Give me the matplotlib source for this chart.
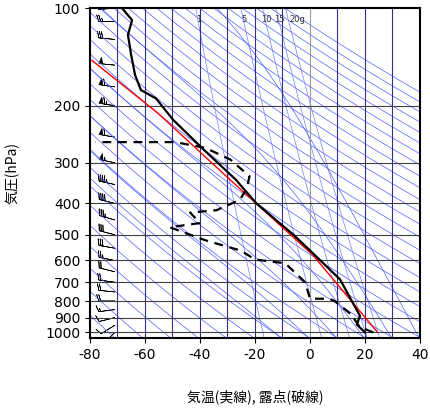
import numpy as np
import matplotlib
matplotlib.use('Agg')
import matplotlib.pyplot as plt

plt.rcParams['font.family'] = ['Noto Sans CJK JP', 'DejaVu Sans']

# temperature profile (solid)
t_p = [1000, 945, 890, 780, 686, 578, 500, 400, 338, 274, 221, 190, 179, 161, 140, 121, 109, 100]
t_T = [20.0, 17.0, 18.2, 14.5, 10.9, 1.8, -6.0, -19.5, -27.0, -38.5, -49.8, -56.0, -61.5, -63.6, -65.0, -66.2, -64.7, -68.4]
# dewpoint profile (dashed)
d_p = [1000, 960, 880, 800, 787, 787, 700, 612, 596, 560, 520, 474, 460, 427, 420, 390, 360, 330, 293, 270, 259, 259]
d_T = [23.0, 18.0, 15.0, 9.0, 7.0, 0.0, -1.8, -9.0, -20.0, -25.0, -38.0, -51.0, -40.0, -43.6, -34.0, -25.5, -23.0, -22.0, -29.0, -38.0, -49.0, -78.0]
# reference adiabat (red)
r_p = [995, 578, 338, 211, 145]
r_T = [24.4, 1.1, -29.1, -55.3, -79.3]
# winds (u, v in knots)
w_p = [1000, 950, 900, 850, 800, 750, 700, 650, 600, 550, 500, 450, 400, 350, 300, 250, 200, 175, 150, 125, 110, 100]
w_u = [5, 8, 12, 15, 18, 20, 22, 20, 25, 28, 30, 35, 40, 45, 55, 60, 65, 60, 50, 30, 25, 20]
w_v = [5, 5, 3, 2, 0, -2, -3, -5, -5, -5, -8, -10, -10, -10, -12, -10, -10, -8, -5, -3, 0, 2]
mix_ratios = [1, 5, 10, 15, 20]

fig = plt.figure(figsize=(4.31, 4.08), dpi=100)
ax = fig.add_axes([90/431, 70/408, 330/431, 330/408])
ax.set_yscale('log')
ax.set_ylim(1040, 100)
ax.set_xlim(-80, 40)

p = np.logspace(np.log10(100), np.log10(1050), 60)
# dry adiabats
for th in range(200, 520, 10):
    ax.plot(th * (p/1000.0)**0.286 - 273.15, p, color='#5060ff', lw=0.5)
# mixing ratio lines
for w in mix_ratios:
    e = w * p / (622.0 + w)
    lne = np.log(e / 6.112)
    td = 243.5 * lne / (17.67 - lne)
    ax.plot(td, p, color='#7080ff', lw=0.5)
for w, ha in zip(mix_ratios, ['center', 'center', 'center', 'center', 'left']):
    e = w * 112 / (622.0 + w)
    lne = np.log(e / 6.112)
    ax.text(243.5 * lne / (17.67 - lne), 112, str(w) + ('g' if w == 20 else ''), fontsize=6,
            family='DejaVu Sans', ha=ha, va='bottom', color='#333333')
# moist adiabats (numerical)
for t0 in range(-10, 45, 10):
    T = t0 + 273.15
    pp = [1050.0]
    tt = [T]
    pc = 1050.0
    while pc > 100:
        Tc = T - 273.15
        es = 6.112 * np.exp(17.67 * Tc / (Tc + 243.5))
        rs = 0.622 * es / (pc - es)
        g = (287.0 * T + 2.5e6 * rs) / (1004.0 + 2.5e6**2 * rs * 0.622 / (287.0 * T**2)) / pc
        T -= g * 5
        pc -= 5
        pp.append(pc)
        tt.append(T)
    ax.plot(np.array(tt) - 273.15, pp, color='#5060ff', lw=0.5)

for x in range(-70, 40, 10):
    ax.axvline(x, color='#9a9a9a' if x == 0 else '#303090', lw=0.8)
for y in [200, 300, 400, 500, 600, 700, 800, 900, 1000]:
    ax.axhline(y, color='#404040', lw=0.8)

ax.plot(r_T, r_p, color='red', lw=1)
ax.plot(t_T, t_p, color='black', lw=1.6)
ax.plot(d_T, d_p, color='black', lw=1.6, ls=(0, (4, 3)))
ax.barbs([-71]*len(w_p), w_p, w_u, w_v, length=4.8, lw=0.5, color='black')

ticks = [100, 200, 300, 400, 500, 600, 700, 800, 900, 1000]
ax.set_yticks(ticks)
ax.set_yticklabels([str(t) for t in ticks], family='DejaVu Sans')
ax.minorticks_off()
ax.set_xticks(range(-80, 41, 20))
ax.set_xticklabels([str(t) for t in range(-80, 41, 20)], family='DejaVu Sans')
ax.tick_params(labelsize=10, direction='out')
for s in ax.spines.values():
    s.set_linewidth(1.5)
ax.set_ylabel('気圧(hPa)', fontsize=10, labelpad=18)
ax.set_xlabel('気温(実線), 露点(破線)', fontsize=10, labelpad=20)

fig.savefig('out.png', dpi=100)
